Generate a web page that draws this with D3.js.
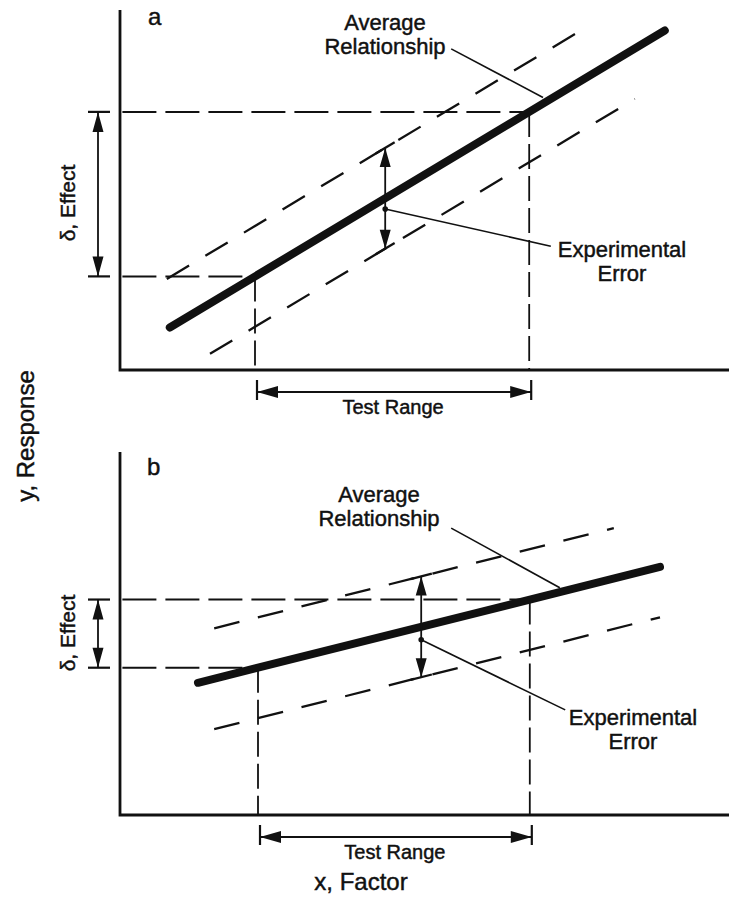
<!DOCTYPE html>
<html>
<head>
<meta charset="utf-8">
<script src="https://cdn.jsdelivr.net/npm/d3@7"></script>
<style>
  html, body { margin: 0; padding: 0; background: #fff; }
  svg { display: block; }
  text { font-family: "Liberation Sans", Arial, Helvetica, sans-serif; fill: #111; stroke: #111; stroke-width: 0.45px; }
</style>
</head>
<body>
<svg id="chart" width="729" height="898"></svg>
<script>
// ---- Data: two panels showing the same test range with a steep (a) and a shallow (b) response ----
const panelNames = ["a", "b"];
const slopes = [1.0, 0.418];            // response per unit of factor
const intercepts = [0.35, 3.13];        // response at x = 0
const lineSpans = [[0.83, 9.08], [1.3, 9.0]];
const errorBand = [1.4, 1.4];           // half-width of experimental error
const upperSpans = [[0.78, 7.85], [1.57, 8.23]];
const lowerSpans = [[1.5, 8.58], [1.57, 9.0]];
const testRanges = [[2.25, 6.82], [2.3, 6.83]];
const errorMarkX = [4.42, 5.02];
const avgLabelLines = ["Average", "Relationship"];
const errLabelLines = ["Experimental", "Error"];
const effectLabel = "δ, Effect";
const rangeLabel = "Test Range";
const xAxisLabel = "x, Factor";
const yAxisLabel = "y, Response";

// ---- Layout ----
const W = 729, H = 898;
const yRanges = [[370, 10], [815, 455]];
const axisTops = [10, 452];
const layout = [
  { letter: [148, 25], avgText: [385, 30], avgFrom: [5.52, 8.92], avgTo: 7.05, avgGap: 0.17,
    errText: [622, 257], errTo: [7.18, 3.44], dotDrop: 0.3, effectMid: 203 },
  { letter: [147, 475], avgText: [379, 502], avgFrom: [5.52, 7.97], avgTo: 7.33, avgGap: 0.12,
    errText: [633, 725], errTo: [7.42, 2.92], dotDrop: 0.36, effectMid: 633 }
];

const svg = d3.select("#chart");
svg.append("rect").attr("width", W).attr("height", H).attr("fill", "#fff");

const x = d3.scaleLinear().domain([0, 10]).range([120, 720]);
const ink = "#111";

// Line with filled triangular heads at both ends
function doubleArrow(g, x1, y1, x2, y2, headLen, headW, sw) {
  g.append("line").attr("x1", x1).attr("y1", y1).attr("x2", x2).attr("y2", y2)
    .attr("stroke", ink).attr("stroke-width", sw);
  const dx = x2 - x1, dy = y2 - y1, L = Math.hypot(dx, dy);
  const ux = dx / L, uy = dy / L, px = -uy, py = ux;
  const head = (tx, ty, s) => {
    const bx = tx - s * ux * headLen, by = ty - s * uy * headLen;
    return `M${tx},${ty}L${bx + px * headW / 2},${by + py * headW / 2}L${bx - px * headW / 2},${by - py * headW / 2}Z`;
  };
  g.append("path").attr("d", head(x2, y2, 1) + head(x1, y1, -1)).attr("fill", ink);
}

panelNames.forEach((name, i) => {
  const y = d3.scaleLinear().domain([0, 10]).range(yRanges[i]);
  const f = v => intercepts[i] + slopes[i] * v;
  const L = layout[i];
  const g = svg.append("g");
  const line = d3.line().x(d => x(d[0])).y(d => y(d[1]));
  const [t0, t1] = testRanges[i];

  // Axes
  g.append("path")
    .attr("d", `M${x(0)},${axisTops[i]}V${y(0)}H${W}`)
    .attr("fill", "none").attr("stroke", ink).attr("stroke-width", 2.8);

  // Horizontal guides from the y axis to the line at the test-range ends
  [t0, t1].forEach(t => {
    g.append("path").datum([[0.04, f(t)], [t, f(t)]]).attr("d", line)
      .attr("fill", "none").attr("stroke", ink).attr("stroke-width", 2)
      .attr("stroke-dasharray", "34,9");
    // Vertical guides from the line down to the x axis
    g.append("path").datum([[t, f(t)], [t, 0]]).attr("d", line)
      .attr("fill", "none").attr("stroke", ink).attr("stroke-width", 1.8)
      .attr("stroke-dasharray", "25,7");
  });

  // Error band (dashed)
  g.append("path").datum(upperSpans[i].map(v => [v, f(v) + errorBand[i]])).attr("d", line)
    .attr("fill", "none").attr("stroke", ink).attr("stroke-width", 2.3)
    .attr("stroke-dasharray", "26,19");
  g.append("path").datum(lowerSpans[i].map(v => [v, f(v) - errorBand[i]])).attr("d", line)
    .attr("fill", "none").attr("stroke", ink).attr("stroke-width", 2.3)
    .attr("stroke-dasharray", "26,19");

  // Average relationship (thick line)
  g.append("path").datum(lineSpans[i].map(v => [v, f(v)])).attr("d", line)
    .attr("fill", "none").attr("stroke", ink).attr("stroke-width", 8)
    .attr("stroke-linecap", "round");

  // Panel letter
  g.append("text").attr("x", L.letter[0]).attr("y", L.letter[1])
    .attr("font-size", 24).text(name);

  // δ, Effect arrow with end ticks
  const ya = y(f(t1)), yb = y(f(t0));
  [ya, yb].forEach(yy => g.append("line").attr("x1", 88).attr("x2", 110)
    .attr("y1", yy).attr("y2", yy).attr("stroke", ink).attr("stroke-width", 2.2));
  doubleArrow(g, 98, ya, 98, yb, 20, 11, 1.8);
  g.append("text")
    .attr("transform", `translate(75,${L.effectMid}) rotate(-90)`)
    .attr("text-anchor", "middle").attr("font-size", 21).text(effectLabel);

  // Experimental error arrow between the band lines
  const ex = errorMarkX[i];
  const yTop = y(f(ex) + errorBand[i]), yBot = y(f(ex) - errorBand[i]);
  const pxSlope = (y(f(ex + 1)) - y(f(ex))) / (x(ex + 1) - x(ex));
  const ang = Math.atan(pxSlope), half = 11;
  [yTop, yBot].forEach(yy => g.append("line")
    .attr("x1", x(ex) - half * Math.cos(ang)).attr("y1", yy - half * Math.sin(ang))
    .attr("x2", x(ex) + half * Math.cos(ang)).attr("y2", yy + half * Math.sin(ang))
    .attr("stroke", ink).attr("stroke-width", 2.3));
  doubleArrow(g, x(ex), yTop, x(ex), yBot, 19, 11, 1.8);

  // Leader to "Experimental Error"
  const dot = [x(ex), y(f(ex) - L.dotDrop)];
  g.append("circle").attr("cx", dot[0]).attr("cy", dot[1]).attr("r", 2.8).attr("fill", ink);
  g.append("line").attr("x1", dot[0]).attr("y1", dot[1])
    .attr("x2", x(L.errTo[0])).attr("y2", y(L.errTo[1]))
    .attr("stroke", ink).attr("stroke-width", 1.6);
  errLabelLines.forEach((s, k) => g.append("text")
    .attr("x", L.errText[0]).attr("y", L.errText[1] + k * 24)
    .attr("text-anchor", "middle").attr("font-size", 22).text(s));

  // Leader to "Average Relationship"
  g.append("line").attr("x1", x(L.avgFrom[0])).attr("y1", y(L.avgFrom[1]))
    .attr("x2", x(L.avgTo)).attr("y2", y(f(L.avgTo) + L.avgGap))
    .attr("stroke", ink).attr("stroke-width", 1.6);
  avgLabelLines.forEach((s, k) => g.append("text")
    .attr("x", L.avgText[0]).attr("y", L.avgText[1] + k * 24)
    .attr("text-anchor", "middle").attr("font-size", 22).text(s));

  // Test range arrow below the x axis
  const ry = y(0) + 22;
  [t0, t1].forEach(t => g.append("line").attr("x1", x(t) + 2).attr("x2", x(t) + 2)
    .attr("y1", ry - 12).attr("y2", ry + 8).attr("stroke", ink).attr("stroke-width", 2.2));
  doubleArrow(g, x(t0) + 2, ry, x(t1) + 2, ry, 21, 12, 2.2);
  g.append("text").attr("x", (x(t0) + x(t1)) / 2 + 1).attr("y", ry + 22)
    .attr("text-anchor", "middle").attr("font-size", 20).text(rangeLabel);
});

// Shared axis titles
svg.append("text").attr("x", 361).attr("y", 890)
  .attr("text-anchor", "middle").attr("font-size", 24).text(xAxisLabel);
svg.append("text").attr("transform", "translate(34,436) rotate(-90)")
  .attr("text-anchor", "middle").attr("font-size", 24).text(yAxisLabel);
</script>
</body>
</html>
